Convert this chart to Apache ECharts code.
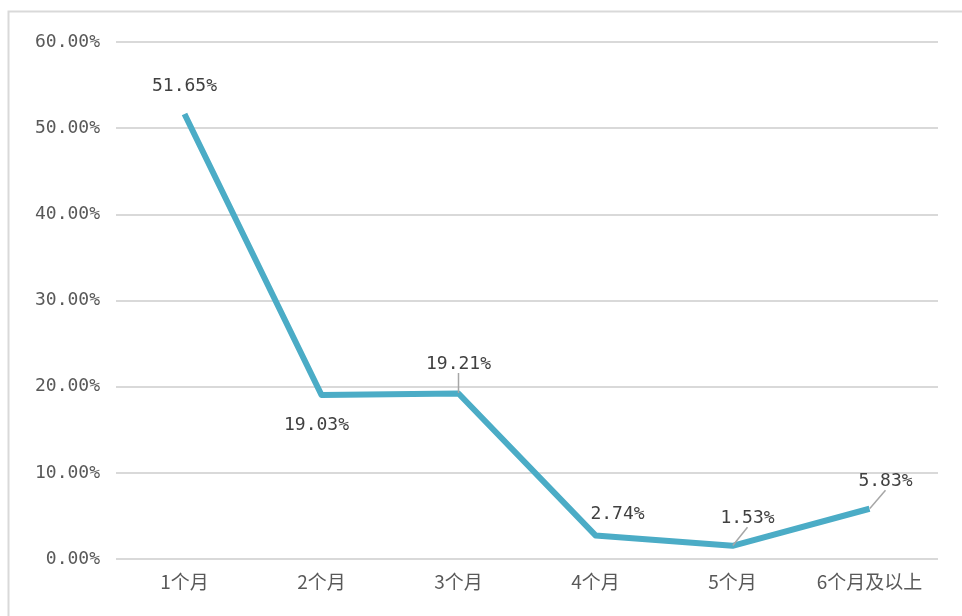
<!DOCTYPE html>
<html>
<head>
    <meta charset="UTF-8">
    <title>月份占比折线图</title>
    <script src="https://cdn.jsdelivr.net/npm/echarts@6/dist/echarts.min.js"></script>
    <style>
        html, body { margin: 0; padding: 0; background: #fff; }
        #main { width: 962px; height: 616px; }
    </style>
</head>
<body>
<div id="main"></div>
<script type="text/javascript">
    // 数据
    var categories = ['1个月', '2个月', '3个月', '4个月', '5个月', '6个月及以上'];
    var values = [51.65, 19.03, 19.21, 2.74, 1.53, 5.83];
    var yTicks = [0, 10, 20, 30, 40, 50, 60];

    // 标签偏移（相对默认 top 位置）及引导线
    var labelShift = [
        [0, -13], [-5, 45], [0, -15], [22, -7], [15, -13], [16, -13]
    ];
    var showGuide = [false, false, true, false, true, true];

    var seriesData = values.map(function (v, i) {
        return { value: v, labelLine: { show: showGuide[i] } };
    });

    var myChart = echarts.init(document.getElementById('main'));

    var option = {
        animation: false,
        graphic: [{
            type: 'rect',
            shape: { x: 8.5, y: 11.5, width: 1000, height: 700 },
            style: { fill: 'none', stroke: '#d9d9d9', lineWidth: 2 },
            silent: true
        }],
        grid: {
            left: 116,
            right: 24,
            top: 42,
            bottom: 57
        },
        xAxis: {
            type: 'category',
            boundaryGap: true,
            data: categories,
            axisLine: { show: false },
            axisTick: { show: false },
            axisLabel: {
                color: '#595959',
                fontSize: 19,
                fontFamily: 'Noto Sans CJK SC',
                margin: 13,
                interval: 0
            }
        },
        yAxis: {
            type: 'value',
            min: yTicks[0],
            max: yTicks[yTicks.length - 1],
            interval: 10,
            axisLine: { show: false },
            axisTick: { show: false },
            axisLabel: {
                color: '#595959',
                fontSize: 18,
                fontFamily: 'DejaVu Sans Mono',
                margin: 16,
                formatter: function (v) { return v.toFixed(2) + '%'; }
            },
            splitLine: { lineStyle: { color: '#d9d9d9', width: 2 } }
        },
        series: [{
            type: 'line',
            data: seriesData,
            symbol: 'circle',
            symbolSize: 1,
            itemStyle: { color: 'rgba(0,0,0,0)', borderWidth: 0 },
            lineStyle: { color: '#4bacc6', width: 6, join: 'round' },
            label: {
                show: true,
                position: 'top',
                distance: 5,
                color: '#404040',
                fontSize: 18,
                fontFamily: 'DejaVu Sans Mono',
                formatter: function (p) { return p.value.toFixed(2) + '%'; }
            },
            labelLine: {
                show: true,
                lineStyle: { color: '#a6a6a6', width: 1.5 }
            },
            labelLayout: function (params) {
                var s = labelShift[params.dataIndex];
                return { dx: s[0], dy: s[1] };
            }
        }]
    };
    myChart.setOption(option);
</script>
</body>
</html>
